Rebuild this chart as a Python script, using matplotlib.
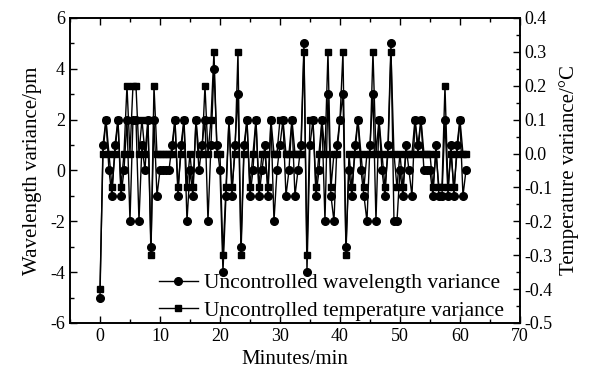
import matplotlib
matplotlib.use("Agg")
import matplotlib.pyplot as plt
import numpy as np
from matplotlib.ticker import MultipleLocator, FormatStrFormatter

plt.rcParams["font.family"] = ["Liberation Serif", "DejaVu Serif"]
plt.rcParams["axes.unicode_minus"] = False

# sampling every 0.5 min
minutes = np.arange(0, 61.5, 0.5)

# wavelength variance [pm]
wavelength = [
    -5, 1, 2, 0, -1, 1, 2, -1, 0, 2, -2, 2, 2, -2, 1, 0, 2, -3, 2, -1,
    0, 0, 0, 0, 1, 2, -1, 1, 2, -2, 0, -1, 2, 0, 1, 2, -2, 1, 4, 1,
    0, -4, -1, 2, -1, 1, 3, -3, 1, 2, -1, 0, 2, -1, 0, 1, -1, 2, -2, 0,
    1, 2, -1, 0, 2, -1, 0, 1, 5, -4, 1, 2, -1, 0, 2, -2, 3, -1, -2, 1,
    2, 3, -3, 0, -1, 1, 2, 0, -1, -2, 1, 3, -2, 2, 0, -1, 1, 5, -2, -2,
    0, -1, 1, 0, -1, 2, 1, 2, 0, 0, 0, -1, 1, -1, -1, 2, -1, 1, -1, 1,
    2, -1, 0,
]

# temperature variance [°C]
temperature = [
    -0.4, 0, 0.1, 0, -0.1, 0, 0.1, -0.1, 0, 0.2, 0, 0.2, 0.2, 0, 0.1, 0, 0.1, -0.3, 0.2, 0,
    0, 0, 0, 0, 0, 0.1, -0.1, 0, 0.1, -0.1, 0, -0.1, 0.1, 0, 0, 0.2, 0, 0.1, 0.3, 0,
    0, -0.3, -0.1, 0.1, -0.1, 0, 0.3, -0.3, 0, 0.1, -0.1, 0, 0.1, -0.1, 0, 0, -0.1, 0.1, 0, 0,
    0.1, 0.1, 0, 0, 0.1, 0, 0, 0, 0.3, -0.3, 0.1, 0.1, -0.1, 0, 0.1, 0, 0.3, -0.1, 0, 0,
    0.1, 0.3, -0.3, 0, -0.1, 0, 0.1, 0, -0.1, 0, 0, 0.3, 0, 0.1, 0, -0.1, 0, 0.3, 0, -0.1,
    0, -0.1, 0, 0, 0, 0.1, 0, 0.1, 0, 0, 0, -0.1, 0, -0.1, -0.1, 0.2, -0.1, 0, -0.1, 0,
    0.1, 0, 0,
]

fig = plt.figure(figsize=(5.9, 3.82), dpi=100)
ax = fig.add_axes([0.1186, 0.1545, 0.7627, 0.7985])
ax2 = ax.twinx()

l1, = ax.plot(minutes, wavelength, "-o", color="k", lw=1.0, ms=5.5,
              label="Uncontrolled wavelength variance")
l2, = ax2.plot(minutes, temperature, "-s", color="k", lw=1.0, ms=5,
               label="Uncontrolled temperature variance")

ax.set_xlim(-5, 70)
ax.set_ylim(-6, 6)
ax2.set_ylim(-0.5, 0.4)

ax.xaxis.set_major_locator(MultipleLocator(10))
ax.xaxis.set_minor_locator(MultipleLocator(5))
ax.yaxis.set_major_locator(MultipleLocator(2))
ax.yaxis.set_minor_locator(MultipleLocator(1))
ax2.yaxis.set_major_locator(MultipleLocator(0.1))
ax2.yaxis.set_minor_locator(MultipleLocator(0.05))
ax2.yaxis.set_major_formatter(FormatStrFormatter("%.1f"))

ax.tick_params(which="both", direction="in", top=True, right=False, labelsize=13)
ax.tick_params(which="major", length=5, width=1)
ax.tick_params(which="minor", length=3, width=1)
ax2.tick_params(which="both", direction="in", labelsize=13)
ax2.tick_params(which="major", length=5, width=1)
ax2.tick_params(which="minor", length=3, width=1)

for a in (ax, ax2):
    for s in a.spines.values():
        s.set_linewidth(1.2)

ax.set_xlabel("Minutes/min", fontsize=15)
ax.set_ylabel("Wavelength variance/pm", fontsize=15, labelpad=6)
ax2.set_ylabel("Temperature variance/°C", fontsize=15)

leg = ax2.legend(handles=[l1, l2], loc="lower right", frameon=False, fontsize=15.5,
                 handlelength=1.8, borderaxespad=0, borderpad=0.1,
                 labelspacing=0.35, handletextpad=0.3,
                 bbox_to_anchor=(0.97, 0.0))

fig.savefig("out.png", dpi=100)
